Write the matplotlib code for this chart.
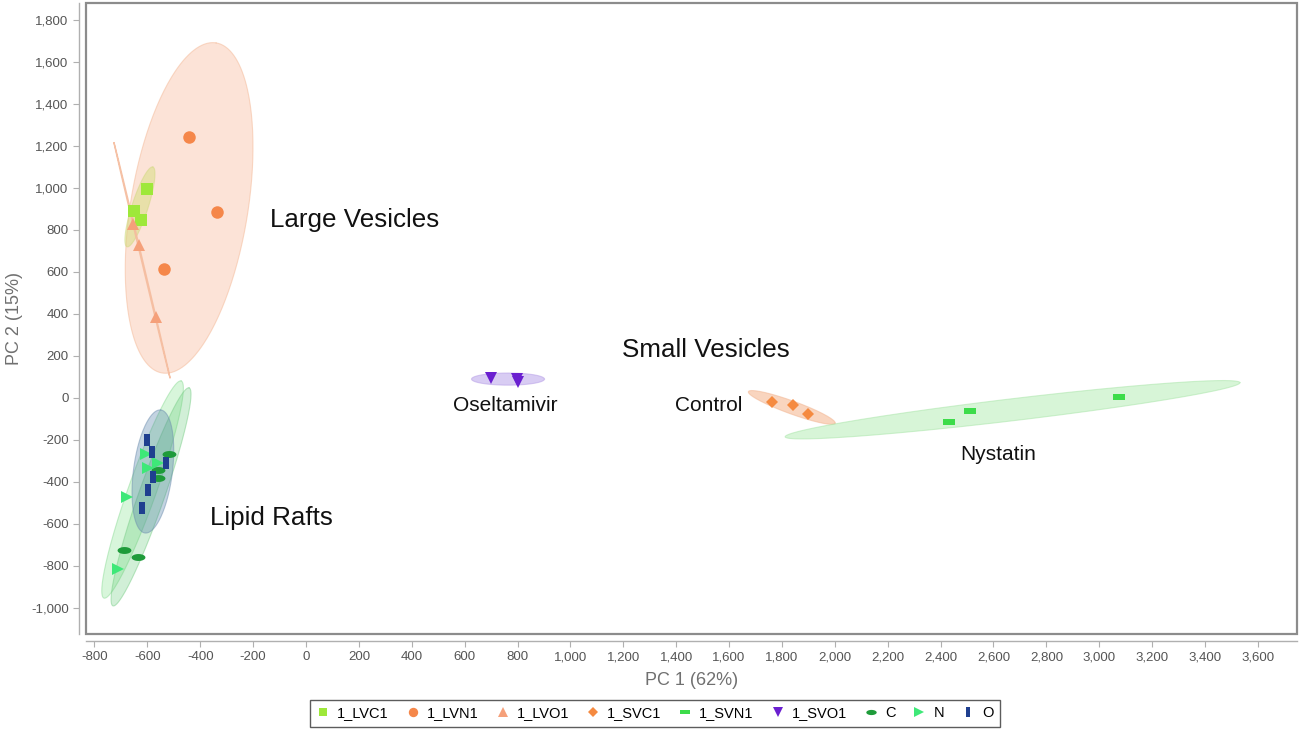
import numpy as np
import matplotlib
matplotlib.use("Agg")
import matplotlib.pyplot as plt
from matplotlib.patches import Rectangle
from matplotlib.ticker import FuncFormatter, MultipleLocator

# ---------------- data ----------------
lvc1_x = [-601, -651, -624]
lvc1_y = [995, 890, 848]
lvn1_x = [-442, -337, -537]
lvn1_y = [1243, 886, 614]
lvo1_x = [-654, -632, -567]
lvo1_y = [829, 729, 386]
svc1_x = [1764, 1843, 1898]
svc1_y = [-20, -33, -75]
svn1_x = [2432, 2511, 3075]
svn1_y = [-114, -60, 6]
svo1_x = [700, 798, 802]
svo1_y = [95, 90, 76]
c_x = [-517, -559, -559, -688, -634]
c_y = [-268, -343, -379, -724, -756]
n_x = [-606, -596, -559, -676, -712]
n_y = [-267, -335, -311, -470, -816]
o_x = [-600, -583, -531, -579, -597, -621]
o_y = [-200, -259, -308, -378, -438, -525]

# confidence ellipses: centre, semi-axis vector u, conjugate semi-axis vector v (data units)
ell_lvn1 = dict(c=(-442, 905), u=(102, 786), v=(219, -45))
ell_lvc1 = dict(c=(-628, 910), u=(49, 190), v=(29, -12))
ell_lvo1 = dict(c=(-620, 655), u=(-106, 560), v=(2, 1))
ell_n = dict(c=(-618, -436), u=(146, 517), v=(50, -22))
ell_c = dict(c=(-586, -471), u=(144, 519), v=(46, -20))
ell_o = dict(c=(-579, -350), u=(30, 293), v=(73, -12))
ell_svo1 = dict(c=(764, 90), u=(138, 0), v=(0, 29))
ell_svc1 = dict(c=(1837, -45), u=(164, -75), v=(-8, -29))
ell_svn1 = dict(c=(2672, -56), u=(860, 129), v=(5, -52))

group_labels = ["Large Vesicles", "Small Vesicles", "Lipid Rafts"]
treat_labels = ["Oseltamivir", "Control", "Nystatin"]
legend_labels = ["1_LVC1", "1_LVN1", "1_LVO1", "1_SVC1", "1_SVN1", "1_SVO1", "C", "N", "O"]

# ---------------- figure ----------------
plt.rcParams['font.family'] = ['Liberation Sans', 'DejaVu Sans']
fig = plt.figure(figsize=(12.99, 7.29), dpi=100)
ax = fig.add_axes([0.0662, 0.1303, 0.9323, 0.8656])
ax.set_xlim(-832, 3748)
ax.set_ylim(-1124, 1881)

def draw_ellipse(e, fc, alpha, ec, lw=0.8, z=1, ealpha=0.5):
    t = np.linspace(0, 2 * np.pi, 300)
    cx, cy = e['c']
    ux, uy = e['u']
    vx, vy = e['v']
    xs = cx + ux * np.cos(t) + vx * np.sin(t)
    ys = cy + uy * np.cos(t) + vy * np.sin(t)
    ax.fill(xs, ys, facecolor=fc, alpha=alpha, edgecolor='none', zorder=z)
    ax.plot(xs, ys, color=ec, lw=lw, alpha=ealpha, zorder=z)

draw_ellipse(ell_lvn1, '#f7a57c', 0.30, '#f4b896')
draw_ellipse(ell_lvc1, '#c8dc60', 0.38, '#d0d880')
draw_ellipse(ell_lvo1, '#f5bc9e', 0.3, '#f5bc9e', lw=1.0, ealpha=0.9)
draw_ellipse(ell_n, '#7fe38a', 0.30, '#8fdc98')
draw_ellipse(ell_c, '#5cc870', 0.28, '#7ccf8a')
draw_ellipse(ell_o, '#4a7aa5', 0.33, '#7090b0')
draw_ellipse(ell_svo1, '#b9a3ea', 0.55, '#b49be6')
draw_ellipse(ell_svc1, '#f5b48c', 0.55, '#f2b38e')
draw_ellipse(ell_svn1, '#a8eaa8', 0.45, '#a6e4a6')

hrect = [(-1, -0.5), (1, -0.5), (1, 0.5), (-1, 0.5), (-1, -0.5)]
vrect = [(-0.5, -1), (0.5, -1), (0.5, 1), (-0.5, 1), (-0.5, -1)]
tt = np.linspace(0, 2 * np.pi, 30)
hoval = list(zip(np.cos(tt), 0.5 * np.sin(tt)))

series = [
    (lvc1_x, lvc1_y, 's', '#9ee83a', 8),
    (lvn1_x, lvn1_y, 'o', '#f5874a', 9),
    (lvo1_x, lvo1_y, '^', '#f5a07a', 9),
    (svc1_x, svc1_y, 'D', '#f58a40', 6.5),
    (svn1_x, svn1_y, hrect, '#3ddc4a', 9),
    (svo1_x, svo1_y, 'v', '#6a1fd0', 9),
    (c_x, c_y, hoval, '#1e9b3a', 10),
    (n_x, n_y, '>', '#3ee878', 9),
    (o_x, o_y, vrect, '#1f3f8f', 9),
]
handles = []
for (xs, ys, m, col, ms), lab in zip(series, legend_labels):
    h, = ax.plot(xs, ys, linestyle='none', marker=m, color=col, markersize=ms,
                 markeredgewidth=0, zorder=5, label=lab)
    handles.append(h)

# texts
big = 18.7
small = 15.0
ax.text(-136, 848, group_labels[0], fontsize=big, va='center', ha='left', color='#111111')
ax.text(1195, 229, group_labels[1], fontsize=big, va='center', ha='left', color='#111111')
ax.text(-363, -571, group_labels[2], fontsize=big, va='center', ha='left', color='#111111')
ax.text(556, -38, treat_labels[0], fontsize=small, va='center', ha='left', color='#111111')
ax.text(1396, -38, treat_labels[1], fontsize=small, va='center', ha='left', color='#111111')
ax.text(2474, -267, treat_labels[2], fontsize=small, va='center', ha='left', color='#111111')

# axes styling
for s in ['top', 'right']:
    ax.spines[s].set_visible(False)
for s in ['left', 'bottom']:
    ax.spines[s].set_position(('outward', 5))
    ax.spines[s].set_color('#b0b0b0')
    ax.spines[s].set_linewidth(1.0)
ax.add_patch(Rectangle((0, 0), 1, 1, transform=ax.transAxes, fill=False,
                       edgecolor='#8c8c8c', lw=1.6, clip_on=False, zorder=10))
ax.xaxis.set_major_locator(MultipleLocator(200))
ax.yaxis.set_major_locator(MultipleLocator(200))
fmt = FuncFormatter(lambda v, p: f"{int(round(v)):,}")
ax.xaxis.set_major_formatter(fmt)
ax.yaxis.set_major_formatter(fmt)
ax.tick_params(direction='out', length=4, color='#b0b0b0', labelcolor='#555555',
               labelsize=9.5)
ax.set_xlabel("PC 1 (62%)", fontsize=13, color='#707070', labelpad=6)
ax.set_ylabel("PC 2 (15%)", fontsize=13, color='#707070', labelpad=6)

leg = fig.legend(handles=handles, labels=legend_labels, loc='lower center',
                 bbox_to_anchor=(0.504, 0.001), ncol=9, frameon=True, fancybox=False,
                 edgecolor='#333333', fontsize=10.5, handlelength=1.0, handletextpad=0.45,
                 columnspacing=1.15, borderpad=0.45, borderaxespad=0.1, markerscale=0.75)
leg.get_frame().set_linewidth(1.0)

fig.savefig("out.png", dpi=100)
